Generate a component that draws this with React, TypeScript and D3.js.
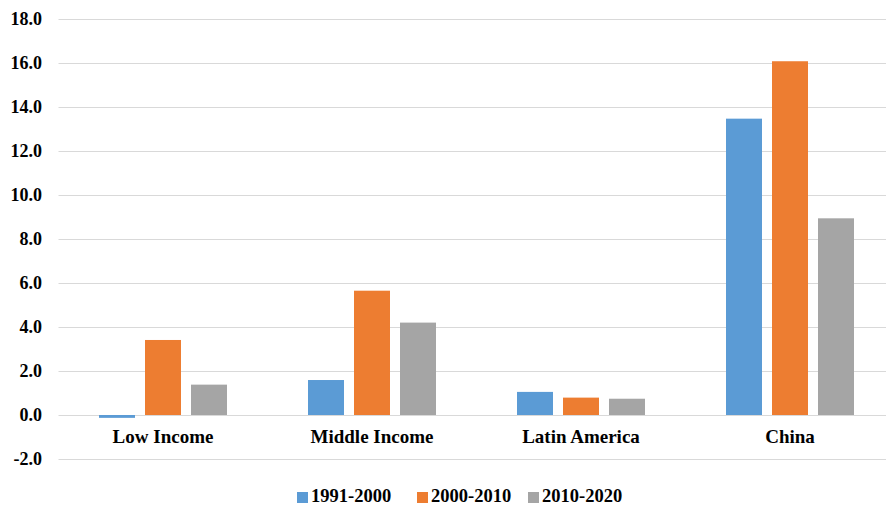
import React from "react";
import * as d3 from "d3";

const categories = ["Low Income", "Middle Income", "Latin America", "China"];
const seriesNames = ["1991-2000", "2000-2010", "2010-2020"];
const s1991 = [-0.13, 1.59, 1.05, 13.47];
const s2000 = [3.41, 5.65, 0.79, 16.08];
const s2010 = [1.38, 4.2, 0.74, 8.94];
const yTicks = [-2, 0, 2, 4, 6, 8, 10, 12, 14, 16, 18];
const colors = ["#5b9bd5", "#ed7d31", "#a5a5a5"];

const W = 886;
const H = 505;
const FONT = '"Liberation Serif"';

const fmt = (t: number) => d3.format(".1f")(t).replace("\u2212", "-");

export default function App() {
  const series = [s1991, s2000, s2010];
  const y = d3.scaleLinear().domain([-2, 18]).range([459, 19]);
  const x0 = d3.scaleBand<string>().domain(categories).range([58.5, 894.5]).padding(0);
  const x1 = d3
    .scaleBand<string>()
    .domain(seriesNames)
    .range([-64, 64])
    .paddingInner(10 / 46)
    .paddingOuter(0);
  const gridLeft = 58.5;
  const gridRight = 886;

  const legendX = [297, 417, 528];

  return (
    <svg
      width={W}
      height={H}
      style={{ position: "absolute", left: 0, top: 0, background: "#fff" }}
    >
      <rect x={0} y={0} width={W} height={H} fill="#fff" />
      {yTicks.map((t) => (
        <g key={t}>
          <line
            x1={gridLeft}
            x2={gridRight}
            y1={Math.round(y(t)) + 0.5}
            y2={Math.round(y(t)) + 0.5}
            stroke="#d9d9d9"
            strokeWidth={1}
          />
          <text
            x={42}
            y={y(t)}
            dy="0.35em"
            textAnchor="end"
            style={{ fontFamily: FONT, fontSize: 18, fontWeight: "bold" }}
            fill="#000"
          >
            {fmt(t)}
          </text>
        </g>
      ))}
      {categories.map((c, ci) => (
        <g key={c} transform={`translate(${(x0(c) as number) + x0.bandwidth() / 2},0)`}>
          {seriesNames.map((s, si) => {
            const v = series[si][ci];
            const top = y(Math.max(0, v));
            const bottom = y(Math.min(0, v));
            return (
              <rect
                key={s}
                x={x1(s) as number}
                y={top}
                width={x1.bandwidth()}
                height={bottom - top}
                fill={colors[si]}
              />
            );
          })}
          <text
            x={0}
            y={443}
            textAnchor="middle"
            style={{ fontFamily: FONT, fontSize: 19, fontWeight: "bold" }}
            fill="#000"
          >
            {c}
          </text>
        </g>
      ))}
      {seriesNames.map((s, si) => (
        <g key={s} transform={`translate(${legendX[si]},0)`}>
          <rect x={0} y={492} width={11} height={11} fill={colors[si]} />
          <text
            x={14}
            y={502}
            style={{ fontFamily: FONT, fontSize: 18.5, fontWeight: "bold" }}
            fill="#000"
          >
            {s}
          </text>
        </g>
      ))}
    </svg>
  );
}
